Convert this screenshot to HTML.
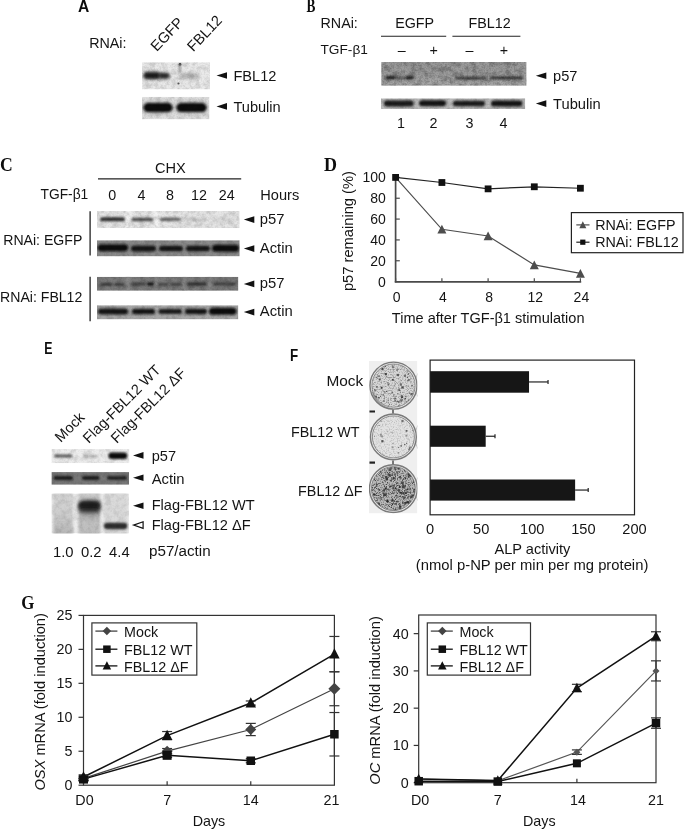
<!DOCTYPE html>
<html><head><meta charset="utf-8"><style>
html,body{margin:0;padding:0;background:#fff;width:684px;height:830px;overflow:hidden}
svg{display:block;filter:grayscale(1)}
text{font-family:"Liberation Sans",sans-serif}
text.pl{font-family:"Liberation Serif",serif;font-weight:bold}
text.pls{font-family:"Liberation Sans",sans-serif;font-weight:bold}
</style></head><body>
<svg width="684" height="830" viewBox="0 0 684 830" fill="#141414">
<defs>
<filter id="b0_3" x="-50%" y="-100%" width="200%" height="300%"><feGaussianBlur stdDeviation="0.3"/></filter>
<filter id="b0_5" x="-50%" y="-100%" width="200%" height="300%"><feGaussianBlur stdDeviation="0.5"/></filter>
<filter id="b0_8" x="-50%" y="-100%" width="200%" height="300%"><feGaussianBlur stdDeviation="0.8"/></filter>
<filter id="b1" x="-50%" y="-100%" width="200%" height="300%"><feGaussianBlur stdDeviation="1"/></filter>
<filter id="b1_2" x="-50%" y="-100%" width="200%" height="300%"><feGaussianBlur stdDeviation="1.2"/></filter>
<filter id="b1_4" x="-50%" y="-100%" width="200%" height="300%"><feGaussianBlur stdDeviation="1.4"/></filter>
<filter id="b1_5" x="-50%" y="-100%" width="200%" height="300%"><feGaussianBlur stdDeviation="1.5"/></filter>
<filter id="b1_6" x="-50%" y="-100%" width="200%" height="300%"><feGaussianBlur stdDeviation="1.6"/></filter>
<filter id="b1_8" x="-50%" y="-100%" width="200%" height="300%"><feGaussianBlur stdDeviation="1.8"/></filter>
<filter id="b2" x="-50%" y="-100%" width="200%" height="300%"><feGaussianBlur stdDeviation="2"/></filter>
<filter id="b2_2" x="-50%" y="-100%" width="200%" height="300%"><feGaussianBlur stdDeviation="2.2"/></filter>
<filter id="b2_5" x="-50%" y="-100%" width="200%" height="300%"><feGaussianBlur stdDeviation="2.5"/></filter>
<filter id="b3" x="-50%" y="-100%" width="200%" height="300%"><feGaussianBlur stdDeviation="3"/></filter>
<filter id="b4" x="-50%" y="-100%" width="200%" height="300%"><feGaussianBlur stdDeviation="4"/></filter>
<filter id="nc1" x="0" y="0" width="100%" height="100%" color-interpolation-filters="sRGB"><feTurbulence type="fractalNoise" baseFrequency="0.18" numOctaves="3" seed="1"/><feColorMatrix type="matrix" values="0 0 0 0 0 0 0 0 0 0 0 0 0 0 0 3 0 0 0 -1.2"/><feComposite in2="SourceGraphic" operator="in"/></filter>
<filter id="nf1" x="0" y="0" width="100%" height="100%" color-interpolation-filters="sRGB"><feTurbulence type="fractalNoise" baseFrequency="0.7" numOctaves="2" seed="21"/><feColorMatrix type="matrix" values="0 0 0 0 0 0 0 0 0 0 0 0 0 0 0 3 0 0 0 -1.2"/><feComposite in2="SourceGraphic" operator="in"/></filter>
<filter id="nc2" x="0" y="0" width="100%" height="100%" color-interpolation-filters="sRGB"><feTurbulence type="fractalNoise" baseFrequency="0.18" numOctaves="3" seed="2"/><feColorMatrix type="matrix" values="0 0 0 0 0 0 0 0 0 0 0 0 0 0 0 3 0 0 0 -1.2"/><feComposite in2="SourceGraphic" operator="in"/></filter>
<filter id="nf2" x="0" y="0" width="100%" height="100%" color-interpolation-filters="sRGB"><feTurbulence type="fractalNoise" baseFrequency="0.7" numOctaves="2" seed="22"/><feColorMatrix type="matrix" values="0 0 0 0 0 0 0 0 0 0 0 0 0 0 0 3 0 0 0 -1.2"/><feComposite in2="SourceGraphic" operator="in"/></filter>
<filter id="nc3" x="0" y="0" width="100%" height="100%" color-interpolation-filters="sRGB"><feTurbulence type="fractalNoise" baseFrequency="0.18" numOctaves="3" seed="3"/><feColorMatrix type="matrix" values="0 0 0 0 0 0 0 0 0 0 0 0 0 0 0 3 0 0 0 -1.2"/><feComposite in2="SourceGraphic" operator="in"/></filter>
<filter id="nf3" x="0" y="0" width="100%" height="100%" color-interpolation-filters="sRGB"><feTurbulence type="fractalNoise" baseFrequency="0.7" numOctaves="2" seed="23"/><feColorMatrix type="matrix" values="0 0 0 0 0 0 0 0 0 0 0 0 0 0 0 3 0 0 0 -1.2"/><feComposite in2="SourceGraphic" operator="in"/></filter>
<filter id="nc4" x="0" y="0" width="100%" height="100%" color-interpolation-filters="sRGB"><feTurbulence type="fractalNoise" baseFrequency="0.18" numOctaves="3" seed="4"/><feColorMatrix type="matrix" values="0 0 0 0 0 0 0 0 0 0 0 0 0 0 0 3 0 0 0 -1.2"/><feComposite in2="SourceGraphic" operator="in"/></filter>
<filter id="nf4" x="0" y="0" width="100%" height="100%" color-interpolation-filters="sRGB"><feTurbulence type="fractalNoise" baseFrequency="0.7" numOctaves="2" seed="24"/><feColorMatrix type="matrix" values="0 0 0 0 0 0 0 0 0 0 0 0 0 0 0 3 0 0 0 -1.2"/><feComposite in2="SourceGraphic" operator="in"/></filter>
<filter id="nc5" x="0" y="0" width="100%" height="100%" color-interpolation-filters="sRGB"><feTurbulence type="fractalNoise" baseFrequency="0.18" numOctaves="3" seed="5"/><feColorMatrix type="matrix" values="0 0 0 0 0 0 0 0 0 0 0 0 0 0 0 3 0 0 0 -1.2"/><feComposite in2="SourceGraphic" operator="in"/></filter>
<filter id="nf5" x="0" y="0" width="100%" height="100%" color-interpolation-filters="sRGB"><feTurbulence type="fractalNoise" baseFrequency="0.7" numOctaves="2" seed="25"/><feColorMatrix type="matrix" values="0 0 0 0 0 0 0 0 0 0 0 0 0 0 0 3 0 0 0 -1.2"/><feComposite in2="SourceGraphic" operator="in"/></filter>
<filter id="nc6" x="0" y="0" width="100%" height="100%" color-interpolation-filters="sRGB"><feTurbulence type="fractalNoise" baseFrequency="0.18" numOctaves="3" seed="6"/><feColorMatrix type="matrix" values="0 0 0 0 0 0 0 0 0 0 0 0 0 0 0 3 0 0 0 -1.2"/><feComposite in2="SourceGraphic" operator="in"/></filter>
<filter id="nf6" x="0" y="0" width="100%" height="100%" color-interpolation-filters="sRGB"><feTurbulence type="fractalNoise" baseFrequency="0.7" numOctaves="2" seed="26"/><feColorMatrix type="matrix" values="0 0 0 0 0 0 0 0 0 0 0 0 0 0 0 3 0 0 0 -1.2"/><feComposite in2="SourceGraphic" operator="in"/></filter>
<filter id="nc7" x="0" y="0" width="100%" height="100%" color-interpolation-filters="sRGB"><feTurbulence type="fractalNoise" baseFrequency="0.18" numOctaves="3" seed="7"/><feColorMatrix type="matrix" values="0 0 0 0 0 0 0 0 0 0 0 0 0 0 0 3 0 0 0 -1.2"/><feComposite in2="SourceGraphic" operator="in"/></filter>
<filter id="nf7" x="0" y="0" width="100%" height="100%" color-interpolation-filters="sRGB"><feTurbulence type="fractalNoise" baseFrequency="0.7" numOctaves="2" seed="27"/><feColorMatrix type="matrix" values="0 0 0 0 0 0 0 0 0 0 0 0 0 0 0 3 0 0 0 -1.2"/><feComposite in2="SourceGraphic" operator="in"/></filter>
<filter id="nc8" x="0" y="0" width="100%" height="100%" color-interpolation-filters="sRGB"><feTurbulence type="fractalNoise" baseFrequency="0.18" numOctaves="3" seed="8"/><feColorMatrix type="matrix" values="0 0 0 0 0 0 0 0 0 0 0 0 0 0 0 3 0 0 0 -1.2"/><feComposite in2="SourceGraphic" operator="in"/></filter>
<filter id="nf8" x="0" y="0" width="100%" height="100%" color-interpolation-filters="sRGB"><feTurbulence type="fractalNoise" baseFrequency="0.7" numOctaves="2" seed="28"/><feColorMatrix type="matrix" values="0 0 0 0 0 0 0 0 0 0 0 0 0 0 0 3 0 0 0 -1.2"/><feComposite in2="SourceGraphic" operator="in"/></filter>
</defs>
<rect width="684" height="830" fill="#fff"/>
<text class="pls" font-size="15.6" transform="translate(77.90 11.6) scale(1.0 1)" x="0" y="0" fill="#0d0d0d">A</text>
<text x="89.2" y="48" font-size="14.3" text-anchor="start" >RNAi:</text>
<text x="156.8" y="52.0" font-size="14.6" transform="rotate(-46.5 156.8 52.0)" >EGFP</text>
<text x="193.3" y="52.2" font-size="14.6" transform="rotate(-46.5 193.3 52.2)" >FBL12</text>
<clipPath id="c38"><rect x="142" y="62.2" width="68" height="27.299999999999997"/></clipPath>
<g clip-path="url(#c38)">
<rect x="142" y="62.2" width="68" height="27.299999999999997" fill="#eaeaea"/>
<circle cx="180" cy="64.5" r="1.4" fill="#333" filter="url(#b0_5)"/>
<rect x="178.6" y="64" width="2.4" height="9" fill="#999" filter="url(#b0_8)"/>
<circle cx="178.5" cy="83.5" r="1.1" fill="#555" filter="url(#b0_5)"/>
<rect x="143.5" y="71.85" width="17.0" height="7.5" rx="3.75" ry="3.75" fill="#1a1a1a" opacity="1" filter="url(#b1_4)"/>
<rect x="158.5" y="72.8" width="11.300000000000011" height="6" rx="3.0" ry="3.0" fill="#282828" opacity="1" filter="url(#b1_4)"/>
<rect x="178" y="73.3" width="22" height="6" rx="3.0" ry="3.0" fill="#c8c8c8" opacity="1" filter="url(#b1_8)"/>
<rect x="181" y="74.55" width="16" height="3.5" rx="1.75" ry="1.75" fill="#b5b5b5" opacity="1" filter="url(#b1_5)"/>
<rect x="142" y="62.2" width="68" height="27.299999999999997" fill="#000" filter="url(#nc1)" opacity="0.11"/>
<rect x="142" y="62.2" width="68" height="27.299999999999997" fill="#000" filter="url(#nf1)" opacity="0.05"/>
</g>
<clipPath id="c51"><rect x="142" y="96.8" width="67.5" height="22.60000000000001"/></clipPath>
<g clip-path="url(#c51)">
<rect x="142" y="96.8" width="67.5" height="22.60000000000001" fill="#e4e4e4"/>
<rect x="142" y="101.1" width="32" height="13" rx="6.5" ry="6.5" fill="#9a9a9a" opacity="0.6" filter="url(#b2_5)"/>
<rect x="175" y="101.1" width="33" height="13" rx="6.5" ry="6.5" fill="#9a9a9a" opacity="0.6" filter="url(#b2_5)"/>
<rect x="143.5" y="103.1" width="29.0" height="9" rx="4.5" ry="4.5" fill="#0a0a0a" opacity="1" filter="url(#b1_2)"/>
<rect x="176.5" y="103.1" width="30.0" height="9" rx="4.5" ry="4.5" fill="#0a0a0a" opacity="1" filter="url(#b1_2)"/>
<rect x="142" y="96.8" width="67.5" height="22.60000000000001" fill="#000" filter="url(#nc2)" opacity="0.113"/>
<rect x="142" y="96.8" width="67.5" height="22.60000000000001" fill="#000" filter="url(#nf2)" opacity="0.04"/>
</g>
<polygon points="216.5,75.5 227.0,72.2 227.0,78.8" fill="#111"/>
<text x="233.4" y="80.6" font-size="14.6" text-anchor="start" >FBL12</text>
<polygon points="216.5,106.4 227.0,103.10000000000001 227.0,109.7" fill="#111"/>
<text x="233.4" y="111.6" font-size="14.6" text-anchor="start" >Tubulin</text>
<text class="pl" font-size="18" transform="translate(306.38 11.6) scale(0.74 1)" x="0" y="0" fill="#0d0d0d">B</text>
<text x="320.5" y="27.9" font-size="14.3" text-anchor="start" >RNAi:</text>
<text x="395.2" y="28" font-size="14.3" text-anchor="start" >EGFP</text>
<text x="468.6" y="28" font-size="14.3" text-anchor="start" >FBL12</text>
<line x1="381" y1="36.3" x2="446.2" y2="36.3" stroke="#222" stroke-width="1.1"/>
<line x1="452.4" y1="36.3" x2="520.4" y2="36.3" stroke="#222" stroke-width="1.1"/>
<text x="320.5" y="54.4" font-size="13.7" text-anchor="start" >TGF-&#946;1</text>
<text x="401.7" y="55.3" font-size="14.3" text-anchor="middle" >&#8211;</text>
<text x="433.8" y="55.3" font-size="14.3" text-anchor="middle" >+</text>
<text x="469.4" y="55.3" font-size="14.3" text-anchor="middle" >&#8211;</text>
<text x="503.9" y="55.3" font-size="14.3" text-anchor="middle" >+</text>
<clipPath id="c76"><rect x="381.2" y="62" width="145.40000000000003" height="23.700000000000003"/></clipPath>
<g clip-path="url(#c76)">
<rect x="381.2" y="62" width="145.40000000000003" height="23.700000000000003" fill="#9b9b9b"/>
<rect x="381" y="78.5" width="145.60000000000002" height="8" rx="4.0" ry="4.0" fill="#b2b2b2" opacity="0.6" filter="url(#b2)"/>
<rect x="386" y="76.0" width="10" height="3.2" rx="1.6" ry="1.6" fill="#1e1e1e" opacity="1" filter="url(#b0_8)"/>
<rect x="395" y="76.6" width="12" height="2.4" rx="1.2" ry="1.2" fill="#555" opacity="1" filter="url(#b0_8)"/>
<rect x="406" y="76.0" width="8" height="3.2" rx="1.6" ry="1.6" fill="#222" opacity="1" filter="url(#b0_8)"/>
<rect x="455" y="76.8" width="31" height="2.8" rx="1.4" ry="1.4" fill="#3a3a3a" opacity="1" filter="url(#b0_8)"/>
<rect x="490" y="76.5" width="33" height="2.8" rx="1.4" ry="1.4" fill="#353535" opacity="1" filter="url(#b0_8)"/>
<rect x="381.2" y="62" width="145.40000000000003" height="23.700000000000003" fill="#000" filter="url(#nc3)" opacity="0.203"/>
<rect x="381.2" y="62" width="145.40000000000003" height="23.700000000000003" fill="#000" filter="url(#nf3)" opacity="0.125"/>
</g>
<clipPath id="c88"><rect x="381" y="98.3" width="144.29999999999995" height="10.700000000000003"/></clipPath>
<g clip-path="url(#c88)">
<rect x="381" y="98.3" width="144.29999999999995" height="10.700000000000003" fill="#bcbcbc"/>
<rect x="384" y="100.4" width="29.5" height="6" rx="3.0" ry="3.0" fill="#1a1a1a" opacity="1" filter="url(#b0_8)"/>
<rect x="419" y="100.3" width="27" height="6" rx="3.0" ry="3.0" fill="#151515" opacity="1" filter="url(#b0_8)"/>
<rect x="453" y="100.75" width="32" height="5.5" rx="2.75" ry="2.75" fill="#1c1c1c" opacity="1" filter="url(#b0_8)"/>
<rect x="491" y="100.5" width="31.5" height="6" rx="3.0" ry="3.0" fill="#181818" opacity="1" filter="url(#b0_8)"/>
<rect x="381" y="98.3" width="144.29999999999995" height="10.700000000000003" fill="#000" filter="url(#nc4)" opacity="0.113"/>
<rect x="381" y="98.3" width="144.29999999999995" height="10.700000000000003" fill="#000" filter="url(#nf4)" opacity="0.05"/>
</g>
<polygon points="535.8,75.8 546.3,72.5 546.3,79.1" fill="#111"/>
<text x="553.1" y="80.6" font-size="14.6" text-anchor="start" >p57</text>
<polygon points="535.8,103.6 546.3,100.3 546.3,106.89999999999999" fill="#111"/>
<text x="553.1" y="108.6" font-size="14.7" text-anchor="start" >Tubulin</text>
<text x="401" y="128.3" font-size="14.3" text-anchor="middle" >1</text>
<text x="433.6" y="128.3" font-size="14.3" text-anchor="middle" >2</text>
<text x="469.4" y="128.3" font-size="14.3" text-anchor="middle" >3</text>
<text x="503.4" y="128.3" font-size="14.3" text-anchor="middle" >4</text>
<text class="pl" font-size="18" transform="translate(0.12 170.6) scale(0.98 1)" x="0" y="0" fill="#0d0d0d">C</text>
<text x="170.4" y="172.6" font-size="14.6" text-anchor="middle" >CHX</text>
<line x1="98" y1="178.9" x2="241.2" y2="178.9" stroke="#222" stroke-width="1.1"/>
<text x="40.5" y="198.8" font-size="13.8" text-anchor="start" >TGF-&#946;1</text>
<text x="112.2" y="199.6" font-size="14.3" text-anchor="middle" >0</text>
<text x="141.5" y="199.6" font-size="14.3" text-anchor="middle" >4</text>
<text x="169.9" y="199.6" font-size="14.3" text-anchor="middle" >8</text>
<text x="199" y="199.6" font-size="14.3" text-anchor="middle" >12</text>
<text x="226.7" y="199.6" font-size="14.3" text-anchor="middle" >24</text>
<text x="260.3" y="199.6" font-size="14.6" text-anchor="start" >Hours</text>
<text x="82.3" y="244.8" font-size="14.1" text-anchor="end" >RNAi: EGFP</text>
<text x="82.3" y="301.7" font-size="14.1" text-anchor="end" >RNAi: FBL12</text>
<line x1="90.1" y1="211.3" x2="90.1" y2="255.4" stroke="#222" stroke-width="1.3"/>
<line x1="90.1" y1="276.8" x2="90.1" y2="321.2" stroke="#222" stroke-width="1.3"/>
<clipPath id="c120"><rect x="97" y="211" width="142.7" height="17.19999999999999"/></clipPath>
<g clip-path="url(#c120)">
<rect x="97" y="211" width="142.7" height="17.19999999999999" fill="#e6e6e6"/>
<rect x="126" y="208" width="5" height="23.19999999999999" fill="#fff" opacity="0.5" filter="url(#b1)"/>
<rect x="154" y="208" width="5" height="23.19999999999999" fill="#fff" opacity="0.5" filter="url(#b1)"/>
<rect x="100" y="217.2" width="25" height="4" rx="2.0" ry="2.0" fill="#333" opacity="1" filter="url(#b1)"/>
<rect x="131.5" y="217.75" width="21.5" height="3.5" rx="1.75" ry="1.75" fill="#505050" opacity="1" filter="url(#b1)"/>
<rect x="160" y="217.65" width="21" height="3.3" rx="1.65" ry="1.65" fill="#6a6a6a" opacity="1" filter="url(#b1)"/>
<rect x="186" y="218.3" width="21" height="3" rx="1.5" ry="1.5" fill="#c9c9c9" opacity="1" filter="url(#b1_2)"/>
<rect x="213" y="218.3" width="23" height="3" rx="1.5" ry="1.5" fill="#d5d5d5" opacity="1" filter="url(#b1_2)"/>
<rect x="97" y="211" width="142.7" height="17.19999999999999" fill="#000" filter="url(#nc5)" opacity="0.113"/>
<rect x="97" y="211" width="142.7" height="17.19999999999999" fill="#000" filter="url(#nf5)" opacity="0.04"/>
</g>
<clipPath id="c133"><rect x="97" y="240.2" width="142.7" height="16.19999999999999"/></clipPath>
<g clip-path="url(#c133)">
<rect x="97" y="240.2" width="142.7" height="16.19999999999999" fill="#8c8c8c"/>
<rect x="97.5" y="244.3" width="30.5" height="7" rx="3.5" ry="3.5" fill="#111" opacity="1" filter="url(#b1)"/>
<rect x="131" y="245.5" width="25" height="6" rx="3.0" ry="3.0" fill="#161616" opacity="1" filter="url(#b1)"/>
<rect x="159" y="245.75" width="24" height="5.5" rx="2.75" ry="2.75" fill="#161616" opacity="1" filter="url(#b1)"/>
<rect x="186" y="245.75" width="24" height="5.5" rx="2.75" ry="2.75" fill="#141414" opacity="1" filter="url(#b1)"/>
<rect x="212" y="244.7" width="27" height="7" rx="3.5" ry="3.5" fill="#0c0c0c" opacity="1" filter="url(#b1)"/>
<rect x="97" y="240.2" width="142.7" height="16.19999999999999" fill="#000" filter="url(#nc6)" opacity="0.113"/>
<rect x="97" y="240.2" width="142.7" height="16.19999999999999" fill="#000" filter="url(#nf6)" opacity="0.04"/>
</g>
<clipPath id="c144"><rect x="97" y="276.8" width="141.4" height="14.0"/></clipPath>
<g clip-path="url(#c144)">
<rect x="97" y="276.8" width="141.4" height="14.0" fill="#7b7b7b"/>
<rect x="126" y="273.8" width="4" height="20.0" fill="#999" opacity="0.5" filter="url(#b1)"/>
<rect x="155" y="273.8" width="3" height="20.0" fill="#999" opacity="0.4" filter="url(#b1)"/>
<rect x="183" y="273.8" width="3" height="20.0" fill="#999" opacity="0.4" filter="url(#b1)"/>
<rect x="208" y="273.8" width="3" height="20.0" fill="#999" opacity="0.4" filter="url(#b1)"/>
<rect x="100" y="282.90000000000003" width="13" height="2.8" rx="1.4" ry="1.4" fill="#3a3a3a" opacity="1" filter="url(#b0_8)"/>
<rect x="114" y="282.90000000000003" width="11" height="2.8" rx="1.4" ry="1.4" fill="#444" opacity="1" filter="url(#b0_8)"/>
<rect x="131" y="282.5" width="15" height="3" rx="1.5" ry="1.5" fill="#404040" opacity="1" filter="url(#b0_8)"/>
<rect x="147" y="282.25" width="7" height="3.5" rx="1.75" ry="1.75" fill="#1a1a1a" opacity="1" filter="url(#b0_8)"/>
<rect x="158" y="282.95" width="10" height="2.5" rx="1.25" ry="1.25" fill="#444" opacity="1" filter="url(#b0_8)"/>
<rect x="170" y="282.95" width="11" height="2.5" rx="1.25" ry="1.25" fill="#3a3a3a" opacity="1" filter="url(#b0_8)"/>
<rect x="187" y="282.25" width="20" height="3.5" rx="1.75" ry="1.75" fill="#333" opacity="1" filter="url(#b0_8)"/>
<rect x="213" y="282.5" width="23" height="3" rx="1.5" ry="1.5" fill="#3e3e3e" opacity="1" filter="url(#b0_8)"/>
<rect x="97" y="276.8" width="141.4" height="14.0" fill="#000" filter="url(#nc7)" opacity="0.135"/>
<rect x="97" y="276.8" width="141.4" height="14.0" fill="#000" filter="url(#nf7)" opacity="0.06"/>
</g>
<clipPath id="c162"><rect x="97" y="305.2" width="141.4" height="14.199999999999989"/></clipPath>
<g clip-path="url(#c162)">
<rect x="97" y="305.2" width="141.4" height="14.199999999999989" fill="#a8a8a8"/>
<rect x="98" y="308.5" width="30" height="6" rx="3.0" ry="3.0" fill="#141414" opacity="1" filter="url(#b1)"/>
<rect x="132" y="308.85" width="23" height="5.5" rx="2.75" ry="2.75" fill="#181818" opacity="1" filter="url(#b1)"/>
<rect x="158.5" y="309.1" width="23.5" height="5" rx="2.5" ry="2.5" fill="#1a1a1a" opacity="1" filter="url(#b1)"/>
<rect x="185" y="308.75" width="22" height="5.5" rx="2.75" ry="2.75" fill="#181818" opacity="1" filter="url(#b1)"/>
<rect x="209" y="307.8" width="27.5" height="7" rx="3.5" ry="3.5" fill="#111" opacity="1" filter="url(#b1)"/>
<rect x="97" y="305.2" width="141.4" height="14.199999999999989" fill="#000" filter="url(#nc8)" opacity="0.113"/>
<rect x="97" y="305.2" width="141.4" height="14.199999999999989" fill="#000" filter="url(#nf8)" opacity="0.04"/>
</g>
<polygon points="243.8,219.6 254.3,216.29999999999998 254.3,222.9" fill="#111"/>
<text x="259.8" y="223.9" font-size="14.8" text-anchor="start" >p57</text>
<polygon points="243.8,248.6 254.3,245.29999999999998 254.3,251.9" fill="#111"/>
<text x="259.8" y="252.6" font-size="14.8" text-anchor="start" >Actin</text>
<polygon points="243.8,283.9 254.3,280.59999999999997 254.3,287.2" fill="#111"/>
<text x="259.8" y="287.9" font-size="14.8" text-anchor="start" >p57</text>
<polygon points="243.8,312.1 254.3,308.8 254.3,315.40000000000003" fill="#111"/>
<text x="259.8" y="316.4" font-size="14.8" text-anchor="start" >Actin</text>
<text class="pl" font-size="18" transform="translate(324.00 170.6) scale(1.0 1)" x="0" y="0" fill="#0d0d0d">D</text>
<line x1="395.6" y1="177.4" x2="395.6" y2="282.4" stroke="#4a4a4a" stroke-width="1.7"/>
<line x1="394.8" y1="281.8" x2="581.2" y2="281.8" stroke="#4a4a4a" stroke-width="1.7"/>
<line x1="395.6" y1="281.6" x2="399.8" y2="281.6" stroke="#4a4a4a" stroke-width="1.2"/>
<text x="385.9" y="286.6" font-size="14" text-anchor="end" >0</text>
<line x1="395.6" y1="260.76000000000005" x2="399.8" y2="260.76000000000005" stroke="#4a4a4a" stroke-width="1.2"/>
<text x="385.9" y="265.76000000000005" font-size="14" text-anchor="end" >20</text>
<line x1="395.6" y1="239.92000000000002" x2="399.8" y2="239.92000000000002" stroke="#4a4a4a" stroke-width="1.2"/>
<text x="385.9" y="244.92000000000002" font-size="14" text-anchor="end" >40</text>
<line x1="395.6" y1="219.08" x2="399.8" y2="219.08" stroke="#4a4a4a" stroke-width="1.2"/>
<text x="385.9" y="224.08" font-size="14" text-anchor="end" >60</text>
<line x1="395.6" y1="198.24" x2="399.8" y2="198.24" stroke="#4a4a4a" stroke-width="1.2"/>
<text x="385.9" y="203.24" font-size="14" text-anchor="end" >80</text>
<line x1="395.6" y1="177.40000000000003" x2="399.8" y2="177.40000000000003" stroke="#4a4a4a" stroke-width="1.2"/>
<text x="385.9" y="182.40000000000003" font-size="14" text-anchor="end" >100</text>
<line x1="395.6" y1="278.2" x2="395.6" y2="281.8" stroke="#4a4a4a" stroke-width="1.2"/>
<text x="396.6" y="301.5" font-size="14" text-anchor="middle" >0</text>
<line x1="441.9" y1="278.2" x2="441.9" y2="281.8" stroke="#4a4a4a" stroke-width="1.2"/>
<text x="442.9" y="301.5" font-size="14" text-anchor="middle" >4</text>
<line x1="488.1" y1="278.2" x2="488.1" y2="281.8" stroke="#4a4a4a" stroke-width="1.2"/>
<text x="489.1" y="301.5" font-size="14" text-anchor="middle" >8</text>
<line x1="534.3" y1="278.2" x2="534.3" y2="281.8" stroke="#4a4a4a" stroke-width="1.2"/>
<text x="535.3" y="301.5" font-size="14" text-anchor="middle" >12</text>
<line x1="580.4" y1="278.2" x2="580.4" y2="281.8" stroke="#4a4a4a" stroke-width="1.2"/>
<text x="581.4" y="301.5" font-size="14" text-anchor="middle" >24</text>
<text x="488.2" y="323" font-size="14.55" text-anchor="middle" >Time after TGF-&#946;1 stimulation</text>
<text x="0" y="0" font-size="14.7" text-anchor="middle" transform="translate(352.7 231.1) rotate(-90)">p57 remaining (%)</text>
<polyline points="395.6,177.40000000000003 441.9,229.29160000000002 488.1,235.96040000000002 534.3,264.928 580.4,273.3682" fill="none" stroke="#4d4d4d" stroke-width="1.2"/>
<polyline points="395.6,177.40000000000003 441.9,182.50580000000002 488.1,188.86200000000002 534.3,186.77800000000002 580.4,188.23680000000002" fill="none" stroke="#222" stroke-width="1.2"/>
<polygon points="441.9,224.84160000000003 437.4,233.57160000000002 446.4,233.57160000000002" fill="#4d4d4d"/>
<polygon points="488.1,231.51040000000003 483.6,240.24040000000002 492.6,240.24040000000002" fill="#4d4d4d"/>
<polygon points="534.3,260.478 529.8,269.20799999999997 538.8,269.20799999999997" fill="#4d4d4d"/>
<polygon points="580.4,268.9182 575.9,277.6482 584.9,277.6482" fill="#4d4d4d"/>
<rect x="392.20000000000005" y="174.00000000000003" width="6.8" height="6.8" fill="#111"/>
<rect x="438.5" y="179.10580000000002" width="6.8" height="6.8" fill="#111"/>
<rect x="484.70000000000005" y="185.46200000000002" width="6.8" height="6.8" fill="#111"/>
<rect x="530.9" y="183.37800000000001" width="6.8" height="6.8" fill="#111"/>
<rect x="577.0" y="184.8368" width="6.8" height="6.8" fill="#111"/>
<rect x="571.4" y="212.6" width="111.6" height="40.1" fill="#fff" stroke="#222" stroke-width="1.2"/>
<line x1="576.3" y1="224.9" x2="589.5" y2="224.9" stroke="#4d4d4d" stroke-width="1.2"/>
<polygon points="582.8,221.35 579.3,228.14 586.3,228.14" fill="#4d4d4d"/>
<text x="595.2" y="230.2" font-size="14.3" text-anchor="start" >RNAi: EGFP</text>
<line x1="576.3" y1="242.2" x2="589.5" y2="242.2" stroke="#222" stroke-width="1.2"/>
<rect x="580.1999999999999" y="239.6" width="5.2" height="5.2" fill="#111"/>
<text x="595.2" y="247" font-size="14.3" text-anchor="start" >RNAi: FBL12</text>
<text class="pls" font-size="15.6" transform="translate(44.21 354.2) scale(0.79 1)" x="0" y="0" fill="#0d0d0d">E</text>
<text x="60.8" y="442.9" font-size="14.6" transform="rotate(-45 60.8 442.9)" >Mock</text>
<text x="88.8" y="443.9" font-size="14.6" transform="rotate(-45 88.8 443.9)" >Flag-FBL12 WT</text>
<text x="116.8" y="443.9" font-size="14.6" transform="rotate(-45 116.8 443.9)" >Flag-FBL12 &#916;F</text>
<clipPath id="c230"><rect x="51.4" y="449.1" width="78.1" height="14.099999999999966"/></clipPath>
<g clip-path="url(#c230)">
<rect x="51.4" y="449.1" width="78.1" height="14.099999999999966" fill="#ededed"/>
<rect x="54" y="454.5" width="18.5" height="3" rx="1.5" ry="1.5" fill="#5a5a5a" opacity="1" filter="url(#b0_8)"/>
<rect x="83" y="455.05" width="15" height="2.5" rx="1.25" ry="1.25" fill="#b0b0b0" opacity="1" filter="url(#b0_8)"/>
<rect x="108.4" y="452.55" width="18.799999999999997" height="6.5" rx="3.25" ry="3.25" fill="#0a0a0a" opacity="1" filter="url(#b1)"/>
<rect x="51.4" y="449.1" width="78.1" height="14.099999999999966" fill="#000" filter="url(#nc2)" opacity="0.09"/>
<rect x="51.4" y="449.1" width="78.1" height="14.099999999999966" fill="#000" filter="url(#nf2)" opacity="0.03"/>
</g>
<clipPath id="c239"><rect x="51.4" y="472.1" width="77.69999999999999" height="12.699999999999989"/></clipPath>
<g clip-path="url(#c239)">
<rect x="51.4" y="472.1" width="77.69999999999999" height="12.699999999999989" fill="#787878"/>
<rect x="53.5" y="475.9" width="19.5" height="4" rx="2.0" ry="2.0" fill="#1e1e1e" opacity="1" filter="url(#b0_8)"/>
<rect x="82" y="475.9" width="17.5" height="4" rx="2.0" ry="2.0" fill="#1e1e1e" opacity="1" filter="url(#b0_8)"/>
<rect x="107" y="476.0" width="20" height="3.8" rx="1.9" ry="1.9" fill="#222" opacity="1" filter="url(#b0_8)"/>
<rect x="51.4" y="472.1" width="77.69999999999999" height="12.699999999999989" fill="#000" filter="url(#nc3)" opacity="0.09"/>
<rect x="51.4" y="472.1" width="77.69999999999999" height="12.699999999999989" fill="#000" filter="url(#nf3)" opacity="0.03"/>
</g>
<linearGradient id="gE" x1="0" y1="0" x2="0" y2="1"><stop offset="0" stop-color="#000" stop-opacity="0"/><stop offset="0.5" stop-color="#000" stop-opacity="0.04"/><stop offset="1" stop-color="#000" stop-opacity="0.16"/></linearGradient>
<linearGradient id="gS" x1="0" y1="0" x2="0" y2="1"><stop offset="0" stop-color="#d4d4d4"/><stop offset="0.15" stop-color="#c8c8c8"/><stop offset="0.45" stop-color="#a8a8a8"/><stop offset="0.7" stop-color="#c2c2c2"/><stop offset="1" stop-color="#bdbdbd"/></linearGradient>
<linearGradient id="gL1" x1="0" y1="0" x2="0" y2="1"><stop offset="0" stop-color="#d6d6d6"/><stop offset="0.55" stop-color="#cdcdcd"/><stop offset="1" stop-color="#b4b4b4"/></linearGradient>
<clipPath id="c251"><rect x="51.4" y="493.5" width="77.69999999999999" height="39.89999999999998"/></clipPath>
<g clip-path="url(#c251)">
<rect x="51.4" y="493.5" width="77.69999999999999" height="39.89999999999998" fill="#ebebeb"/>
<rect x="78.6" y="490.5" width="21.5" height="45.89999999999998" fill="url(#gS)" opacity="1" filter="url(#b1_2)"/>
<rect x="104.2" y="490.5" width="23.200000000000003" height="45.89999999999998" fill="#dadada" opacity="1" filter="url(#b1_2)"/>
<rect x="53.2" y="490" width="19.6" height="46" fill="url(#gL1)" filter="url(#b1_2)"/>
<rect x="77.8" y="500.55" width="23.200000000000003" height="12.5" rx="6.25" ry="6.25" fill="#383838" opacity="1" filter="url(#b2_2)"/>
<rect x="79.5" y="501.8" width="20.0" height="7" rx="3.5" ry="3.5" fill="#1e1e1e" opacity="1" filter="url(#b1_6)"/>
<rect x="104" y="522.65" width="23.200000000000003" height="6.5" rx="3.25" ry="3.25" fill="#2e2e2e" opacity="1" filter="url(#b1_2)"/>
<rect x="51.4" y="493.5" width="77.69999999999999" height="39.89999999999998" fill="#000" filter="url(#nc4)" opacity="0.07"/>
<rect x="51.4" y="493.5" width="77.69999999999999" height="39.89999999999998" fill="#000" filter="url(#nf4)" opacity="0.02"/>
</g>
<polygon points="133,455.4 143.5,452.09999999999997 143.5,458.7" fill="#111"/>
<text x="151.7" y="460.6" font-size="14.6" text-anchor="start" >p57</text>
<polygon points="133,477.7 143.5,474.4 143.5,481.0" fill="#111"/>
<text x="151.7" y="483.7" font-size="14.8" text-anchor="start" >Actin</text>
<polygon points="133,505.8 143.5,502.5 143.5,509.1" fill="#111"/>
<text x="151.7" y="509.7" font-size="14.6" text-anchor="start" >Flag-FBL12 WT</text>
<polygon points="133.6,525.1 143.1,521.8000000000001 143.1,528.4" fill="#fff" stroke="#111" stroke-width="1.2"/>
<text x="151.7" y="530.1" font-size="14.6" text-anchor="start" >Flag-FBL12 &#916;F</text>
<text x="53" y="557.3" font-size="14.8" text-anchor="start" >1.0</text>
<text x="81" y="557.3" font-size="14.8" text-anchor="start" >0.2</text>
<text x="109.1" y="557.3" font-size="14.8" text-anchor="start" >4.4</text>
<text x="149" y="556.4" font-size="15.2" text-anchor="start" >p57/actin</text>
<text class="pls" font-size="15.6" transform="translate(289.94 360.9) scale(0.86 1)" x="0" y="0" fill="#0d0d0d">F</text>
<text x="363.2" y="385.7" font-size="15.4" text-anchor="end" >Mock</text>
<text x="359.4" y="436.6" font-size="14.3" text-anchor="end" >FBL12 WT</text>
<text x="362.5" y="495.8" font-size="14.3" text-anchor="end" >FBL12 &#916;F</text>
<clipPath id="cpF"><rect x="369" y="360.8" width="48.4" height="152.6"/></clipPath>
<g clip-path="url(#cpF)">
<rect x="369" y="360.8" width="48.4" height="152.6" fill="#efefef"/>
<circle cx="440" cy="385" r="25" fill="#f4f4f4" stroke="#c0c0c0" stroke-width="1"/>
<circle cx="440" cy="437" r="25" fill="#f4f4f4" stroke="#c0c0c0" stroke-width="1"/>
<circle cx="440" cy="489" r="25" fill="#f4f4f4" stroke="#c0c0c0" stroke-width="1"/>
<rect x="369.5" y="410.5" width="5.5" height="2" fill="#222"/><rect x="369.5" y="461.5" width="5.5" height="2.2" fill="#222"/>
<filter id="pn0" x="0" y="0" width="100%" height="100%" color-interpolation-filters="sRGB"><feTurbulence type="fractalNoise" baseFrequency="0.75" numOctaves="2" seed="11"/><feColorMatrix type="matrix" values="0 0 0 0 0 0 0 0 0 0 0 0 0 0 0 3.2 0 0 0 -1.45"/><feGaussianBlur stdDeviation="0.4"/><feComposite in2="SourceGraphic" operator="in"/></filter>
<clipPath id="pc0"><circle cx="393.5" cy="385.6" r="21.3"/></clipPath>
<circle cx="393.5" cy="385.6" r="23.5" fill="#ebebeb" stroke="#7a7a7a" stroke-width="1.4"/>
<circle cx="393.5" cy="385.6" r="21.599999999999998" fill="#d6d6d6" stroke="#8c8c8c" stroke-width="1"/>
<g clip-path="url(#pc0)">
<rect x="369.3" y="361.40000000000003" width="48.4" height="48.4" fill="#333" filter="url(#pn0)" opacity="0.3"/>
<g filter="url(#b0_5)">
<rect x="400.9" y="395.9" width="2.2" height="2.2" fill="rgb(66,66,66)"/>
<rect x="387.7" y="384.3" width="1.2" height="1.2" fill="rgb(67,67,67)"/>
<rect x="398.2" y="406.3" width="0.8" height="0.8" fill="rgb(115,115,115)"/>
<rect x="394.3" y="399.9" width="1.8" height="1.8" fill="rgb(114,114,114)"/>
<rect x="388.6" y="383.4" width="1" height="1" fill="rgb(67,67,67)"/>
<rect x="380.1" y="395.8" width="1" height="1" fill="rgb(65,65,65)"/>
<rect x="404.6" y="397.9" width="1.5" height="1.5" fill="rgb(78,78,78)"/>
<rect x="378.8" y="378.6" width="1.8" height="1.8" fill="rgb(83,83,83)"/>
<rect x="387.1" y="382.5" width="1" height="1" fill="rgb(107,107,107)"/>
<rect x="391.9" y="378.9" width="1.8" height="1.8" fill="rgb(67,67,67)"/>
<rect x="376.0" y="386.0" width="1.8" height="1.8" fill="rgb(114,114,114)"/>
<rect x="374.4" y="389.8" width="1.5" height="1.5" fill="rgb(106,106,106)"/>
<rect x="396.8" y="373.9" width="2.2" height="2.2" fill="rgb(91,91,91)"/>
<rect x="391.5" y="391.6" width="1.5" height="1.5" fill="rgb(103,103,103)"/>
<rect x="389.0" y="404.0" width="0.8" height="0.8" fill="rgb(75,75,75)"/>
<rect x="401.6" y="399.3" width="1.2" height="1.2" fill="rgb(79,79,79)"/>
<rect x="374.6" y="395.7" width="2.2" height="2.2" fill="rgb(69,69,69)"/>
<rect x="376.1" y="377.0" width="1.2" height="1.2" fill="rgb(103,103,103)"/>
<rect x="378.1" y="375.3" width="1.8" height="1.8" fill="rgb(118,118,118)"/>
<rect x="398.3" y="388.8" width="1.2" height="1.2" fill="rgb(120,120,120)"/>
<rect x="410.5" y="393.0" width="2.2" height="2.2" fill="rgb(99,99,99)"/>
<rect x="411.3" y="384.8" width="1.5" height="1.5" fill="rgb(96,96,96)"/>
<rect x="407.8" y="373.4" width="1.2" height="1.2" fill="rgb(62,62,62)"/>
<rect x="380.3" y="402.6" width="1.8" height="1.8" fill="rgb(74,74,74)"/>
<rect x="396.6" y="400.9" width="1.2" height="1.2" fill="rgb(76,76,76)"/>
<rect x="378.2" y="397.0" width="1.5" height="1.5" fill="rgb(70,70,70)"/>
<rect x="386.1" y="390.8" width="1.2" height="1.2" fill="rgb(77,77,77)"/>
<rect x="406.7" y="370.4" width="1.2" height="1.2" fill="rgb(113,113,113)"/>
<rect x="384.5" y="365.5" width="1.5" height="1.5" fill="rgb(89,89,89)"/>
<rect x="397.4" y="393.3" width="1" height="1" fill="rgb(89,89,89)"/>
<rect x="394.7" y="383.5" width="1" height="1" fill="rgb(93,93,93)"/>
<rect x="400.7" y="394.9" width="1.8" height="1.8" fill="rgb(107,107,107)"/>
<rect x="386.3" y="401.4" width="1" height="1" fill="rgb(125,125,125)"/>
<rect x="381.3" y="367.7" width="2.2" height="2.2" fill="rgb(66,66,66)"/>
<rect x="403.8" y="374.7" width="2.2" height="2.2" fill="rgb(110,110,110)"/>
<rect x="382.5" y="394.2" width="1.5" height="1.5" fill="rgb(111,111,111)"/>
<rect x="398.6" y="387.9" width="1" height="1" fill="rgb(116,116,116)"/>
<rect x="388.7" y="393.2" width="0.8" height="0.8" fill="rgb(73,73,73)"/>
<rect x="393.7" y="385.9" width="0.8" height="0.8" fill="rgb(106,106,106)"/>
<rect x="409.2" y="393.0" width="1" height="1" fill="rgb(108,108,108)"/>
<rect x="393.4" y="394.2" width="1.2" height="1.2" fill="rgb(106,106,106)"/>
<rect x="404.9" y="395.7" width="1.5" height="1.5" fill="rgb(119,119,119)"/>
<rect x="387.7" y="399.8" width="1" height="1" fill="rgb(73,73,73)"/>
<rect x="392.3" y="366.4" width="1.5" height="1.5" fill="rgb(80,80,80)"/>
<rect x="397.9" y="400.9" width="1.8" height="1.8" fill="rgb(106,106,106)"/>
<rect x="385.3" y="383.3" width="0.8" height="0.8" fill="rgb(127,127,127)"/>
<rect x="385.9" y="376.1" width="0.8" height="0.8" fill="rgb(93,93,93)"/>
<rect x="406.9" y="376.9" width="1.2" height="1.2" fill="rgb(88,88,88)"/>
<rect x="396.4" y="369.7" width="1.2" height="1.2" fill="rgb(88,88,88)"/>
<rect x="397.7" y="368.7" width="1" height="1" fill="rgb(90,90,90)"/>
<rect x="392.2" y="365.6" width="1" height="1" fill="rgb(85,85,85)"/>
<rect x="383.7" y="398.2" width="0.8" height="0.8" fill="rgb(63,63,63)"/>
<rect x="374.1" y="389.0" width="1" height="1" fill="rgb(104,104,104)"/>
<rect x="407.2" y="379.9" width="1.2" height="1.2" fill="rgb(106,106,106)"/>
<rect x="398.5" y="389.4" width="1.5" height="1.5" fill="rgb(85,85,85)"/>
<rect x="380.7" y="387.0" width="1.8" height="1.8" fill="rgb(60,60,60)"/>
<rect x="384.7" y="373.0" width="2.2" height="2.2" fill="rgb(70,70,70)"/>
<rect x="408.3" y="399.5" width="1.5" height="1.5" fill="rgb(85,85,85)"/>
<rect x="400.2" y="399.4" width="2.2" height="2.2" fill="rgb(102,102,102)"/>
<rect x="399.7" y="383.4" width="2.2" height="2.2" fill="rgb(110,110,110)"/>
<rect x="392.9" y="370.5" width="0.8" height="0.8" fill="rgb(80,80,80)"/>
<rect x="399.9" y="392.2" width="1" height="1" fill="rgb(119,119,119)"/>
<rect x="405.6" y="401.4" width="1.8" height="1.8" fill="rgb(120,120,120)"/>
<rect x="382.9" y="400.1" width="1.8" height="1.8" fill="rgb(130,130,130)"/>
<rect x="401.5" y="386.3" width="2.2" height="2.2" fill="rgb(73,73,73)"/>
<rect x="408.2" y="379.1" width="1.5" height="1.5" fill="rgb(84,84,84)"/>
<rect x="398.4" y="405.2" width="1.2" height="1.2" fill="rgb(87,87,87)"/>
<rect x="394.2" y="397.6" width="1.8" height="1.8" fill="rgb(101,101,101)"/>
<rect x="383.6" y="391.1" width="1" height="1" fill="rgb(67,67,67)"/>
<rect x="380.6" y="402.4" width="1.5" height="1.5" fill="rgb(126,126,126)"/>
</g></g>
<filter id="pn1" x="0" y="0" width="100%" height="100%" color-interpolation-filters="sRGB"><feTurbulence type="fractalNoise" baseFrequency="0.75" numOctaves="2" seed="12"/><feColorMatrix type="matrix" values="0 0 0 0 0 0 0 0 0 0 0 0 0 0 0 3.2 0 0 0 -1.45"/><feGaussianBlur stdDeviation="0.4"/><feComposite in2="SourceGraphic" operator="in"/></filter>
<clipPath id="pc1"><circle cx="393.4" cy="436.9" r="20.700000000000003"/></clipPath>
<circle cx="393.4" cy="436.9" r="22.900000000000002" fill="#ebebeb" stroke="#7a7a7a" stroke-width="1.4"/>
<circle cx="393.4" cy="436.9" r="21.0" fill="#e2e2e2" stroke="#8c8c8c" stroke-width="1"/>
<g clip-path="url(#pc1)">
<rect x="369.79999999999995" y="413.29999999999995" width="47.2" height="47.2" fill="#333" filter="url(#pn1)" opacity="0.15"/>
<g filter="url(#b0_5)">
<rect x="405.6" y="430.0" width="1.8" height="1.8" fill="rgb(96,96,96)"/>
<rect x="377.8" y="434.6" width="0.8" height="0.8" fill="rgb(136,136,136)"/>
<rect x="378.6" y="424.9" width="1" height="1" fill="rgb(102,102,102)"/>
<rect x="387.4" y="431.4" width="0.8" height="0.8" fill="rgb(87,87,87)"/>
<rect x="381.1" y="435.5" width="1.8" height="1.8" fill="rgb(141,141,141)"/>
<rect x="408.4" y="448.7" width="1.8" height="1.8" fill="rgb(87,87,87)"/>
<rect x="391.6" y="447.5" width="0.8" height="0.8" fill="rgb(144,144,144)"/>
<rect x="407.7" y="439.4" width="0.8" height="0.8" fill="rgb(136,136,136)"/>
<rect x="405.6" y="434.8" width="1.8" height="1.8" fill="rgb(145,145,145)"/>
<rect x="391.8" y="446.4" width="1.8" height="1.8" fill="rgb(148,148,148)"/>
<rect x="374.0" y="436.0" width="1" height="1" fill="rgb(146,146,146)"/>
<rect x="412.3" y="429.7" width="1.2" height="1.2" fill="rgb(105,105,105)"/>
<rect x="406.3" y="451.9" width="0.8" height="0.8" fill="rgb(130,130,130)"/>
<rect x="406.3" y="443.2" width="1" height="1" fill="rgb(134,134,134)"/>
<rect x="390.6" y="431.8" width="0.8" height="0.8" fill="rgb(99,99,99)"/>
<rect x="380.4" y="420.5" width="1.2" height="1.2" fill="rgb(98,98,98)"/>
<rect x="400.5" y="445.2" width="1.5" height="1.5" fill="rgb(108,108,108)"/>
<rect x="408.9" y="447.3" width="1.5" height="1.5" fill="rgb(100,100,100)"/>
<rect x="404.0" y="418.2" width="1" height="1" fill="rgb(135,135,135)"/>
<rect x="375.7" y="449.1" width="1.5" height="1.5" fill="rgb(105,105,105)"/>
<rect x="404.2" y="444.0" width="1.2" height="1.2" fill="rgb(82,82,82)"/>
<rect x="381.3" y="440.1" width="2.2" height="2.2" fill="rgb(82,82,82)"/>
<rect x="380.1" y="435.4" width="1.2" height="1.2" fill="rgb(145,145,145)"/>
<rect x="409.5" y="450.7" width="1" height="1" fill="rgb(93,93,93)"/>
<rect x="392.5" y="443.1" width="1" height="1" fill="rgb(114,114,114)"/>
<rect x="401.4" y="419.9" width="2.2" height="2.2" fill="rgb(113,113,113)"/>
<rect x="380.0" y="433.8" width="1.8" height="1.8" fill="rgb(143,143,143)"/>
<rect x="408.7" y="446.5" width="0.8" height="0.8" fill="rgb(103,103,103)"/>
<rect x="406.1" y="443.1" width="0.8" height="0.8" fill="rgb(91,91,91)"/>
<rect x="410.1" y="446.6" width="1" height="1" fill="rgb(88,88,88)"/>
<rect x="401.4" y="444.6" width="0.8" height="0.8" fill="rgb(123,123,123)"/>
<rect x="374.7" y="447.5" width="1.2" height="1.2" fill="rgb(96,96,96)"/>
<rect x="392.3" y="432.6" width="0.8" height="0.8" fill="rgb(100,100,100)"/>
<rect x="398.0" y="446.9" width="1.2" height="1.2" fill="rgb(119,119,119)"/>
<rect x="397.7" y="452.0" width="1.5" height="1.5" fill="rgb(144,144,144)"/>
</g></g>
<filter id="pn2" x="0" y="0" width="100%" height="100%" color-interpolation-filters="sRGB"><feTurbulence type="fractalNoise" baseFrequency="0.9" numOctaves="2" seed="13"/><feColorMatrix type="matrix" values="0 0 0 0 0 0 0 0 0 0 0 0 0 0 0 3.2 0 0 0 -1.45"/><feGaussianBlur stdDeviation="0.4"/><feComposite in2="SourceGraphic" operator="in"/></filter>
<clipPath id="pc2"><circle cx="393.4" cy="488.6" r="21.700000000000003"/></clipPath>
<circle cx="393.4" cy="488.6" r="23.900000000000002" fill="#ebebeb" stroke="#7a7a7a" stroke-width="1.4"/>
<circle cx="393.4" cy="488.6" r="22.0" fill="#b8b8b8" stroke="#8c8c8c" stroke-width="1"/>
<g clip-path="url(#pc2)">
<rect x="368.79999999999995" y="464.0" width="49.2" height="49.2" fill="#333" filter="url(#pn2)" opacity="0.6"/>
<g filter="url(#b0_5)">
<rect x="391.0" y="507.0" width="0.8" height="0.8" fill="rgb(56,56,56)"/>
<rect x="397.7" y="489.1" width="1.8" height="1.8" fill="rgb(75,75,75)"/>
<rect x="371.1" y="486.6" width="1" height="1" fill="rgb(99,99,99)"/>
<rect x="385.2" y="475.9" width="2.2" height="2.2" fill="rgb(67,67,67)"/>
<rect x="375.8" y="483.4" width="1.5" height="1.5" fill="rgb(72,72,72)"/>
<rect x="396.1" y="500.8" width="1" height="1" fill="rgb(61,61,61)"/>
<rect x="400.8" y="481.8" width="2.2" height="2.2" fill="rgb(80,80,80)"/>
<rect x="401.8" y="488.0" width="0.8" height="0.8" fill="rgb(93,93,93)"/>
<rect x="400.8" y="492.1" width="2.2" height="2.2" fill="rgb(96,96,96)"/>
<rect x="399.3" y="498.4" width="0.8" height="0.8" fill="rgb(82,82,82)"/>
<rect x="407.6" y="473.5" width="2.2" height="2.2" fill="rgb(58,58,58)"/>
<rect x="387.2" y="472.2" width="0.8" height="0.8" fill="rgb(69,69,69)"/>
<rect x="392.2" y="498.3" width="0.8" height="0.8" fill="rgb(56,56,56)"/>
<rect x="386.9" y="500.6" width="1.8" height="1.8" fill="rgb(60,60,60)"/>
<rect x="404.3" y="486.2" width="1.2" height="1.2" fill="rgb(53,53,53)"/>
<rect x="406.9" y="488.7" width="1.5" height="1.5" fill="rgb(45,45,45)"/>
<rect x="377.8" y="488.3" width="1" height="1" fill="rgb(55,55,55)"/>
<rect x="409.4" y="489.1" width="1.2" height="1.2" fill="rgb(92,92,92)"/>
<rect x="387.9" y="492.6" width="0.8" height="0.8" fill="rgb(65,65,65)"/>
<rect x="392.3" y="491.8" width="1" height="1" fill="rgb(45,45,45)"/>
<rect x="376.4" y="485.4" width="1" height="1" fill="rgb(82,82,82)"/>
<rect x="397.9" y="467.7" width="1.8" height="1.8" fill="rgb(64,64,64)"/>
<rect x="389.8" y="469.2" width="1.5" height="1.5" fill="rgb(49,49,49)"/>
<rect x="384.5" y="480.4" width="1" height="1" fill="rgb(42,42,42)"/>
<rect x="388.9" y="468.6" width="1.8" height="1.8" fill="rgb(80,80,80)"/>
<rect x="388.9" y="474.5" width="1.8" height="1.8" fill="rgb(48,48,48)"/>
<rect x="393.8" y="467.0" width="1.8" height="1.8" fill="rgb(93,93,93)"/>
<rect x="413.7" y="490.7" width="2.2" height="2.2" fill="rgb(77,77,77)"/>
<rect x="388.5" y="469.0" width="2.2" height="2.2" fill="rgb(81,81,81)"/>
<rect x="404.0" y="490.7" width="1" height="1" fill="rgb(80,80,80)"/>
<rect x="404.1" y="496.9" width="1.5" height="1.5" fill="rgb(75,75,75)"/>
<rect x="398.5" y="489.2" width="1.8" height="1.8" fill="rgb(83,83,83)"/>
<rect x="392.4" y="499.7" width="1.5" height="1.5" fill="rgb(91,91,91)"/>
<rect x="398.9" y="486.1" width="1.8" height="1.8" fill="rgb(45,45,45)"/>
<rect x="410.2" y="496.0" width="2.2" height="2.2" fill="rgb(70,70,70)"/>
<rect x="403.5" y="493.7" width="1.2" height="1.2" fill="rgb(55,55,55)"/>
<rect x="398.8" y="507.1" width="2.2" height="2.2" fill="rgb(81,81,81)"/>
<rect x="371.1" y="489.5" width="1.5" height="1.5" fill="rgb(44,44,44)"/>
<rect x="387.1" y="474.3" width="0.8" height="0.8" fill="rgb(79,79,79)"/>
<rect x="399.1" y="505.6" width="1.8" height="1.8" fill="rgb(49,49,49)"/>
<rect x="385.8" y="478.0" width="2.2" height="2.2" fill="rgb(59,59,59)"/>
<rect x="405.3" y="501.8" width="1.5" height="1.5" fill="rgb(43,43,43)"/>
<rect x="408.9" y="485.9" width="0.8" height="0.8" fill="rgb(84,84,84)"/>
<rect x="382.9" y="489.3" width="2.2" height="2.2" fill="rgb(73,73,73)"/>
<rect x="381.6" y="491.2" width="0.8" height="0.8" fill="rgb(97,97,97)"/>
<rect x="387.1" y="504.1" width="0.8" height="0.8" fill="rgb(99,99,99)"/>
<rect x="389.6" y="503.7" width="0.8" height="0.8" fill="rgb(92,92,92)"/>
<rect x="409.5" y="488.1" width="1.2" height="1.2" fill="rgb(64,64,64)"/>
<rect x="403.2" y="485.1" width="1" height="1" fill="rgb(44,44,44)"/>
<rect x="404.2" y="502.0" width="1.8" height="1.8" fill="rgb(56,56,56)"/>
<rect x="408.2" y="504.9" width="2.2" height="2.2" fill="rgb(72,72,72)"/>
<rect x="402.5" y="496.4" width="1.2" height="1.2" fill="rgb(54,54,54)"/>
<rect x="404.8" y="477.4" width="1.5" height="1.5" fill="rgb(41,41,41)"/>
<rect x="402.0" y="485.8" width="2.2" height="2.2" fill="rgb(68,68,68)"/>
<rect x="391.3" y="474.4" width="1.5" height="1.5" fill="rgb(62,62,62)"/>
<rect x="403.4" y="498.1" width="1.2" height="1.2" fill="rgb(40,40,40)"/>
<rect x="386.6" y="499.5" width="1.5" height="1.5" fill="rgb(47,47,47)"/>
<rect x="400.7" y="509.2" width="0.8" height="0.8" fill="rgb(97,97,97)"/>
<rect x="393.0" y="508.0" width="0.8" height="0.8" fill="rgb(65,65,65)"/>
<rect x="403.1" y="478.3" width="0.8" height="0.8" fill="rgb(63,63,63)"/>
<rect x="394.2" y="466.9" width="0.8" height="0.8" fill="rgb(57,57,57)"/>
<rect x="397.1" y="482.4" width="1.2" height="1.2" fill="rgb(80,80,80)"/>
<rect x="393.5" y="510.5" width="1.2" height="1.2" fill="rgb(67,67,67)"/>
<rect x="399.4" y="503.6" width="1.2" height="1.2" fill="rgb(90,90,90)"/>
<rect x="409.9" y="473.9" width="2.2" height="2.2" fill="rgb(65,65,65)"/>
<rect x="413.5" y="480.7" width="1.8" height="1.8" fill="rgb(53,53,53)"/>
<rect x="411.7" y="494.5" width="2.2" height="2.2" fill="rgb(66,66,66)"/>
<rect x="393.7" y="473.4" width="2.2" height="2.2" fill="rgb(95,95,95)"/>
<rect x="404.9" y="492.3" width="1.8" height="1.8" fill="rgb(48,48,48)"/>
<rect x="385.4" y="493.4" width="1.2" height="1.2" fill="rgb(59,59,59)"/>
<rect x="392.6" y="477.2" width="2.2" height="2.2" fill="rgb(56,56,56)"/>
<rect x="394.4" y="503.0" width="1.5" height="1.5" fill="rgb(75,75,75)"/>
<rect x="406.9" y="501.2" width="2.2" height="2.2" fill="rgb(50,50,50)"/>
<rect x="387.2" y="488.6" width="1.5" height="1.5" fill="rgb(75,75,75)"/>
<rect x="402.2" y="482.7" width="1.5" height="1.5" fill="rgb(67,67,67)"/>
<rect x="396.4" y="496.5" width="0.8" height="0.8" fill="rgb(51,51,51)"/>
<rect x="404.5" y="495.8" width="1" height="1" fill="rgb(63,63,63)"/>
<rect x="383.0" y="483.7" width="0.8" height="0.8" fill="rgb(87,87,87)"/>
<rect x="377.8" y="502.8" width="2.2" height="2.2" fill="rgb(73,73,73)"/>
<rect x="392.1" y="498.9" width="0.8" height="0.8" fill="rgb(71,71,71)"/>
<rect x="405.1" y="486.2" width="1" height="1" fill="rgb(83,83,83)"/>
<rect x="382.4" y="476.9" width="1" height="1" fill="rgb(45,45,45)"/>
<rect x="393.5" y="500.4" width="1.5" height="1.5" fill="rgb(81,81,81)"/>
<rect x="407.9" y="484.3" width="0.8" height="0.8" fill="rgb(48,48,48)"/>
<rect x="392.4" y="484.7" width="1.5" height="1.5" fill="rgb(77,77,77)"/>
<rect x="407.6" y="495.6" width="1.8" height="1.8" fill="rgb(94,94,94)"/>
<rect x="378.7" y="493.5" width="0.8" height="0.8" fill="rgb(54,54,54)"/>
<rect x="384.6" y="487.4" width="2.2" height="2.2" fill="rgb(46,46,46)"/>
<rect x="389.5" y="467.0" width="2.2" height="2.2" fill="rgb(94,94,94)"/>
<rect x="374.3" y="493.8" width="1.8" height="1.8" fill="rgb(89,89,89)"/>
<rect x="394.3" y="484.2" width="1" height="1" fill="rgb(76,76,76)"/>
<rect x="380.2" y="471.4" width="1.2" height="1.2" fill="rgb(48,48,48)"/>
<rect x="375.8" y="485.4" width="1.5" height="1.5" fill="rgb(84,84,84)"/>
<rect x="409.4" y="500.2" width="1.2" height="1.2" fill="rgb(73,73,73)"/>
<rect x="401.3" y="509.1" width="1.2" height="1.2" fill="rgb(54,54,54)"/>
<rect x="413.5" y="488.7" width="1.8" height="1.8" fill="rgb(59,59,59)"/>
<rect x="389.4" y="510.8" width="1.2" height="1.2" fill="rgb(81,81,81)"/>
<rect x="394.4" y="509.3" width="1.8" height="1.8" fill="rgb(55,55,55)"/>
<rect x="409.8" y="491.7" width="1.5" height="1.5" fill="rgb(85,85,85)"/>
<rect x="410.5" y="494.8" width="1" height="1" fill="rgb(71,71,71)"/>
<rect x="380.6" y="471.6" width="0.8" height="0.8" fill="rgb(56,56,56)"/>
<rect x="383.8" y="493.5" width="1.2" height="1.2" fill="rgb(54,54,54)"/>
<rect x="388.1" y="473.6" width="2.2" height="2.2" fill="rgb(66,66,66)"/>
<rect x="382.6" y="496.8" width="0.8" height="0.8" fill="rgb(91,91,91)"/>
<rect x="400.3" y="478.5" width="0.8" height="0.8" fill="rgb(53,53,53)"/>
<rect x="398.3" y="503.7" width="1" height="1" fill="rgb(54,54,54)"/>
<rect x="391.9" y="503.9" width="1.2" height="1.2" fill="rgb(46,46,46)"/>
<rect x="371.4" y="489.2" width="1" height="1" fill="rgb(97,97,97)"/>
<rect x="384.1" y="493.9" width="2.2" height="2.2" fill="rgb(43,43,43)"/>
<rect x="406.7" y="506.1" width="1.5" height="1.5" fill="rgb(43,43,43)"/>
<rect x="403.7" y="486.9" width="1" height="1" fill="rgb(66,66,66)"/>
<rect x="398.2" y="490.5" width="1.5" height="1.5" fill="rgb(68,68,68)"/>
<rect x="409.3" y="474.3" width="2.2" height="2.2" fill="rgb(47,47,47)"/>
<rect x="413.9" y="479.2" width="1.2" height="1.2" fill="rgb(52,52,52)"/>
<rect x="402.4" y="484.8" width="2.2" height="2.2" fill="rgb(69,69,69)"/>
<rect x="391.3" y="485.1" width="1.5" height="1.5" fill="rgb(93,93,93)"/>
<rect x="386.6" y="500.6" width="1" height="1" fill="rgb(46,46,46)"/>
<rect x="393.2" y="489.8" width="1.2" height="1.2" fill="rgb(66,66,66)"/>
<rect x="409.1" y="504.1" width="1" height="1" fill="rgb(64,64,64)"/>
<rect x="399.3" y="476.4" width="1.5" height="1.5" fill="rgb(45,45,45)"/>
<rect x="388.5" y="489.4" width="1.2" height="1.2" fill="rgb(74,74,74)"/>
<rect x="401.0" y="508.9" width="1.2" height="1.2" fill="rgb(87,87,87)"/>
<rect x="414.4" y="492.6" width="1.5" height="1.5" fill="rgb(55,55,55)"/>
<rect x="395.5" y="468.3" width="0.8" height="0.8" fill="rgb(64,64,64)"/>
<rect x="397.3" y="490.2" width="0.8" height="0.8" fill="rgb(56,56,56)"/>
<rect x="402.6" y="492.4" width="1.8" height="1.8" fill="rgb(61,61,61)"/>
<rect x="386.5" y="500.3" width="1.8" height="1.8" fill="rgb(42,42,42)"/>
<rect x="391.0" y="477.3" width="1.2" height="1.2" fill="rgb(99,99,99)"/>
<rect x="405.3" y="488.9" width="1.8" height="1.8" fill="rgb(98,98,98)"/>
<rect x="412.5" y="481.9" width="0.8" height="0.8" fill="rgb(41,41,41)"/>
<rect x="409.4" y="501.4" width="2.2" height="2.2" fill="rgb(69,69,69)"/>
<rect x="376.7" y="503.0" width="1.2" height="1.2" fill="rgb(98,98,98)"/>
<rect x="378.6" y="489.2" width="1.5" height="1.5" fill="rgb(51,51,51)"/>
<rect x="395.3" y="487.7" width="1.2" height="1.2" fill="rgb(92,92,92)"/>
<rect x="404.3" y="503.9" width="1" height="1" fill="rgb(60,60,60)"/>
<rect x="373.1" y="493.7" width="1.8" height="1.8" fill="rgb(45,45,45)"/>
<rect x="380.8" y="498.8" width="1" height="1" fill="rgb(55,55,55)"/>
<rect x="384.9" y="477.0" width="1.5" height="1.5" fill="rgb(75,75,75)"/>
<rect x="402.3" y="502.7" width="1.5" height="1.5" fill="rgb(96,96,96)"/>
<rect x="400.0" y="491.8" width="1.8" height="1.8" fill="rgb(45,45,45)"/>
<rect x="384.3" y="493.5" width="2.2" height="2.2" fill="rgb(68,68,68)"/>
<rect x="399.7" y="495.6" width="1.5" height="1.5" fill="rgb(79,79,79)"/>
<rect x="395.4" y="509.8" width="1.8" height="1.8" fill="rgb(94,94,94)"/>
<rect x="394.6" y="468.8" width="1.2" height="1.2" fill="rgb(58,58,58)"/>
<rect x="392.1" y="500.5" width="1.2" height="1.2" fill="rgb(87,87,87)"/>
<rect x="382.7" y="492.9" width="1" height="1" fill="rgb(55,55,55)"/>
<rect x="391.3" y="499.4" width="1.8" height="1.8" fill="rgb(52,52,52)"/>
<rect x="383.1" y="496.4" width="1" height="1" fill="rgb(72,72,72)"/>
<rect x="383.7" y="475.4" width="0.8" height="0.8" fill="rgb(81,81,81)"/>
<rect x="408.4" y="492.1" width="0.8" height="0.8" fill="rgb(70,70,70)"/>
<rect x="395.9" y="509.7" width="1.5" height="1.5" fill="rgb(98,98,98)"/>
<rect x="403.3" y="478.9" width="1" height="1" fill="rgb(47,47,47)"/>
<rect x="389.3" y="485.6" width="1.8" height="1.8" fill="rgb(52,52,52)"/>
<rect x="378.3" y="504.3" width="1" height="1" fill="rgb(68,68,68)"/>
<rect x="396.1" y="471.3" width="2.2" height="2.2" fill="rgb(100,100,100)"/>
<rect x="392.2" y="487.2" width="2.2" height="2.2" fill="rgb(79,79,79)"/>
<rect x="406.4" y="491.7" width="1.2" height="1.2" fill="rgb(49,49,49)"/>
<rect x="398.1" y="488.6" width="0.8" height="0.8" fill="rgb(78,78,78)"/>
<rect x="410.0" y="478.6" width="0.8" height="0.8" fill="rgb(92,92,92)"/>
<rect x="387.8" y="477.0" width="1" height="1" fill="rgb(79,79,79)"/>
<rect x="397.0" y="500.7" width="1.5" height="1.5" fill="rgb(75,75,75)"/>
<rect x="380.2" y="497.2" width="1.5" height="1.5" fill="rgb(82,82,82)"/>
<rect x="382.6" y="475.7" width="0.8" height="0.8" fill="rgb(81,81,81)"/>
<rect x="390.3" y="480.0" width="1.5" height="1.5" fill="rgb(58,58,58)"/>
<rect x="377.3" y="497.7" width="0.8" height="0.8" fill="rgb(59,59,59)"/>
<rect x="407.9" y="475.6" width="1.5" height="1.5" fill="rgb(66,66,66)"/>
<rect x="393.7" y="485.6" width="1.2" height="1.2" fill="rgb(81,81,81)"/>
<rect x="392.0" y="478.7" width="1" height="1" fill="rgb(100,100,100)"/>
<rect x="394.8" y="487.6" width="1.5" height="1.5" fill="rgb(47,47,47)"/>
<rect x="376.4" y="500.0" width="1.2" height="1.2" fill="rgb(69,69,69)"/>
</g></g>
<path d="M372.5,392 A23,23 0 0 0 393,409" fill="none" stroke="#777" stroke-width="1.2" opacity="0.7"/>
<rect x="392" y="409.5" width="2" height="4" fill="#777"/><rect x="392" y="460.5" width="2" height="4" fill="#777"/>
</g>
<rect x="430.1" y="360.1" width="204.4" height="154.7" fill="none" stroke="#222" stroke-width="1.2"/>
<rect x="430.1" y="371.2" width="98.92960000000005" height="21.5" fill="#161616"/>
<line x1="529.0296000000001" y1="381.95" x2="548.0388" y2="381.95" stroke="#222" stroke-width="1.2"/>
<line x1="548.0388" y1="379.95" x2="548.0388" y2="383.95" stroke="#222" stroke-width="1.2"/>
<rect x="430.1" y="425.7" width="55.59680000000003" height="21.100000000000023" fill="#161616"/>
<line x1="485.69680000000005" y1="436.25" x2="494.997" y2="436.25" stroke="#222" stroke-width="1.2"/>
<line x1="494.997" y1="434.25" x2="494.997" y2="438.25" stroke="#222" stroke-width="1.2"/>
<rect x="430.1" y="479.5" width="145.02179999999998" height="21.100000000000023" fill="#161616"/>
<line x1="575.1218" y1="490.05" x2="588.2034000000001" y2="490.05" stroke="#222" stroke-width="1.2"/>
<line x1="588.2034000000001" y1="488.05" x2="588.2034000000001" y2="492.05" stroke="#222" stroke-width="1.2"/>
<text x="430.1" y="533.6" font-size="14.6" text-anchor="middle" >0</text>
<text x="481.20000000000005" y="533.6" font-size="14.6" text-anchor="middle" >50</text>
<text x="532.3000000000001" y="533.6" font-size="14.6" text-anchor="middle" >100</text>
<text x="583.4000000000001" y="533.6" font-size="14.6" text-anchor="middle" >150</text>
<text x="634.5" y="533.6" font-size="14.6" text-anchor="middle" >200</text>
<text x="532.4" y="553.7" font-size="14.6" text-anchor="middle" >ALP activity</text>
<text x="532.1" y="570.1" font-size="14.8" text-anchor="middle" >(nmol p-NP per min per mg protein)</text>
<text class="pl" font-size="18" transform="translate(21.16 608.8) scale(0.94 1)" x="0" y="0" fill="#0d0d0d">G</text>
<rect x="83.5" y="615.4" width="250.89999999999998" height="169.80000000000007" fill="none" stroke="#333" stroke-width="1.2"/>
<line x1="78.5" y1="785.2" x2="83.5" y2="785.2" stroke="#333" stroke-width="1.2"/>
<text x="72.4" y="790.2" font-size="14.3" text-anchor="end" >0</text>
<line x1="78.5" y1="751.24" x2="83.5" y2="751.24" stroke="#333" stroke-width="1.2"/>
<text x="72.4" y="756.24" font-size="14.3" text-anchor="end" >5</text>
<line x1="78.5" y1="717.28" x2="83.5" y2="717.28" stroke="#333" stroke-width="1.2"/>
<text x="72.4" y="722.28" font-size="14.3" text-anchor="end" >10</text>
<line x1="78.5" y1="683.32" x2="83.5" y2="683.32" stroke="#333" stroke-width="1.2"/>
<text x="72.4" y="688.32" font-size="14.3" text-anchor="end" >15</text>
<line x1="78.5" y1="649.36" x2="83.5" y2="649.36" stroke="#333" stroke-width="1.2"/>
<text x="72.4" y="654.36" font-size="14.3" text-anchor="end" >20</text>
<line x1="78.5" y1="615.4" x2="83.5" y2="615.4" stroke="#333" stroke-width="1.2"/>
<text x="72.4" y="620.4" font-size="14.3" text-anchor="end" >25</text>
<line x1="167.13333333333333" y1="781.2" x2="167.13333333333333" y2="785.2" stroke="#333" stroke-width="1.2"/>
<line x1="250.76666666666665" y1="781.2" x2="250.76666666666665" y2="785.2" stroke="#333" stroke-width="1.2"/>
<text x="84.5" y="805.3" font-size="14.3" text-anchor="middle" >D0</text>
<text x="167.13333333333333" y="805.3" font-size="14.3" text-anchor="middle" >7</text>
<text x="250.76666666666665" y="805.3" font-size="14.3" text-anchor="middle" >14</text>
<text x="331.4" y="805.3" font-size="14.3" text-anchor="middle" >21</text>
<text x="208.95" y="826.1" font-size="14.3" text-anchor="middle" >Days</text>
<text x="0" y="0" font-size="14.65" text-anchor="middle" transform="translate(44.7 701.9) rotate(-90)"><tspan font-style="italic">OSX</tspan> mRNA (fold induction)</text>
<polyline points="83.5,778.4 167.1,751.2 250.8,729.5 334.4,688.8" fill="none" stroke="#444" stroke-width="1.2"/>
<polyline points="83.5,779.1 167.1,755.3 250.8,760.7 334.4,734.3" fill="none" stroke="#111" stroke-width="1.5"/>
<polyline points="83.5,777.0 167.1,735.6 250.8,703.0 334.4,654.1" fill="none" stroke="#111" stroke-width="1.5"/>
<line x1="83.5" y1="776.3704" x2="83.5" y2="780.4456" stroke="#333" stroke-width="1.2"/>
<line x1="78.5" y1="776.3704" x2="88.5" y2="776.3704" stroke="#333" stroke-width="1.2"/>
<line x1="78.5" y1="780.4456" x2="88.5" y2="780.4456" stroke="#333" stroke-width="1.2"/>
<polygon points="83.5,772.908 89.0,778.408 83.5,783.908 78.0,778.408" fill="#444"/>
<line x1="167.13333333333333" y1="748.5232000000001" x2="167.13333333333333" y2="753.9568" stroke="#333" stroke-width="1.2"/>
<line x1="162.13333333333333" y1="748.5232000000001" x2="172.13333333333333" y2="748.5232000000001" stroke="#333" stroke-width="1.2"/>
<line x1="162.13333333333333" y1="753.9568" x2="172.13333333333333" y2="753.9568" stroke="#333" stroke-width="1.2"/>
<polygon points="167.13333333333333,745.74 172.63333333333333,751.24 167.13333333333333,756.74 161.63333333333333,751.24" fill="#444"/>
<line x1="250.76666666666665" y1="723.3928000000001" x2="250.76666666666665" y2="735.6184000000001" stroke="#333" stroke-width="1.2"/>
<line x1="245.76666666666665" y1="723.3928000000001" x2="255.76666666666665" y2="723.3928000000001" stroke="#333" stroke-width="1.2"/>
<line x1="245.76666666666665" y1="735.6184000000001" x2="255.76666666666665" y2="735.6184000000001" stroke="#333" stroke-width="1.2"/>
<polygon points="250.76666666666665,724.0056000000001 256.26666666666665,729.5056000000001 250.76666666666665,735.0056000000001 245.26666666666665,729.5056000000001" fill="#444"/>
<line x1="334.4" y1="671.7736" x2="334.4" y2="705.7336" stroke="#333" stroke-width="1.2"/>
<line x1="329.4" y1="671.7736" x2="339.4" y2="671.7736" stroke="#333" stroke-width="1.2"/>
<line x1="329.4" y1="705.7336" x2="339.4" y2="705.7336" stroke="#333" stroke-width="1.2"/>
<polygon points="334.4,682.7536 340.4,688.7536 334.4,694.7536 328.4,688.7536" fill="#444"/>
<line x1="83.5" y1="777.7288000000001" x2="83.5" y2="780.4456" stroke="#333" stroke-width="1.2"/>
<line x1="78.5" y1="777.7288000000001" x2="88.5" y2="777.7288000000001" stroke="#333" stroke-width="1.2"/>
<line x1="78.5" y1="780.4456" x2="88.5" y2="780.4456" stroke="#333" stroke-width="1.2"/>
<rect x="79.0" y="774.5872" width="9" height="9" fill="#111"/>
<line x1="167.13333333333333" y1="753.2776" x2="167.13333333333333" y2="757.3528" stroke="#333" stroke-width="1.2"/>
<line x1="162.13333333333333" y1="753.2776" x2="172.13333333333333" y2="753.2776" stroke="#333" stroke-width="1.2"/>
<line x1="162.13333333333333" y1="757.3528" x2="172.13333333333333" y2="757.3528" stroke="#333" stroke-width="1.2"/>
<rect x="162.63333333333333" y="750.8152" width="9" height="9" fill="#111"/>
<line x1="250.76666666666665" y1="758.7112000000001" x2="250.76666666666665" y2="762.7864000000001" stroke="#333" stroke-width="1.2"/>
<line x1="245.76666666666665" y1="758.7112000000001" x2="255.76666666666665" y2="758.7112000000001" stroke="#333" stroke-width="1.2"/>
<line x1="245.76666666666665" y1="762.7864000000001" x2="255.76666666666665" y2="762.7864000000001" stroke="#333" stroke-width="1.2"/>
<rect x="246.51666666666665" y="756.4988000000001" width="8.5" height="8.5" fill="#111"/>
<line x1="334.4" y1="712.5256" x2="334.4" y2="755.9944" stroke="#333" stroke-width="1.2"/>
<line x1="329.4" y1="712.5256" x2="339.4" y2="712.5256" stroke="#333" stroke-width="1.2"/>
<line x1="329.4" y1="755.9944" x2="339.4" y2="755.9944" stroke="#333" stroke-width="1.2"/>
<rect x="330.15" y="730.01" width="8.5" height="8.5" fill="#111"/>
<line x1="83.5" y1="775.0120000000001" x2="83.5" y2="779.0872" stroke="#333" stroke-width="1.2"/>
<line x1="78.5" y1="775.0120000000001" x2="88.5" y2="775.0120000000001" stroke="#333" stroke-width="1.2"/>
<line x1="78.5" y1="779.0872" x2="88.5" y2="779.0872" stroke="#333" stroke-width="1.2"/>
<polygon points="83.5,771.2746000000001 78.25,781.4596 88.75,781.4596" fill="#111"/>
<line x1="167.13333333333333" y1="731.5432000000001" x2="167.13333333333333" y2="739.6936000000001" stroke="#333" stroke-width="1.2"/>
<line x1="162.13333333333333" y1="731.5432000000001" x2="172.13333333333333" y2="731.5432000000001" stroke="#333" stroke-width="1.2"/>
<line x1="162.13333333333333" y1="739.6936000000001" x2="172.13333333333333" y2="739.6936000000001" stroke="#333" stroke-width="1.2"/>
<polygon points="167.13333333333333,729.8434000000001 161.88333333333333,740.0284 172.38333333333333,740.0284" fill="#111"/>
<line x1="250.76666666666665" y1="700.9792" x2="250.76666666666665" y2="705.0544" stroke="#333" stroke-width="1.2"/>
<line x1="245.76666666666665" y1="700.9792" x2="255.76666666666665" y2="700.9792" stroke="#333" stroke-width="1.2"/>
<line x1="245.76666666666665" y1="705.0544" x2="255.76666666666665" y2="705.0544" stroke="#333" stroke-width="1.2"/>
<polygon points="250.76666666666665,697.2418 245.51666666666665,707.4268 256.01666666666665,707.4268" fill="#111"/>
<line x1="334.4" y1="636.4552" x2="334.4" y2="671.7736" stroke="#333" stroke-width="1.2"/>
<line x1="329.4" y1="636.4552" x2="339.4" y2="636.4552" stroke="#333" stroke-width="1.2"/>
<line x1="329.4" y1="671.7736" x2="339.4" y2="671.7736" stroke="#333" stroke-width="1.2"/>
<polygon points="334.4,648.3394 329.15,658.5243999999999 339.65,658.5243999999999" fill="#111"/>
<rect x="91.9" y="622.9" width="104.9" height="52.200000000000045" fill="#fff" stroke="#333" stroke-width="1.2"/>
<line x1="95.4" y1="631.1" x2="117.4" y2="631.1" stroke="#444" stroke-width="1.3"/>
<polygon points="106.9,626.85 111.15,631.1 106.9,635.35 102.65,631.1" fill="#444"/>
<text x="124.10000000000001" y="636.7" font-size="14.3" text-anchor="start" >Mock</text>
<line x1="95.4" y1="649.2" x2="117.4" y2="649.2" stroke="#111" stroke-width="1.3"/>
<rect x="103.15" y="645.45" width="7.5" height="7.5" fill="#111"/>
<text x="124.10000000000001" y="654.8000000000001" font-size="14.3" text-anchor="start" >FBL12 WT</text>
<line x1="95.4" y1="665.9" x2="117.4" y2="665.9" stroke="#111" stroke-width="1.3"/>
<polygon points="106.9,661.225 102.65,669.47 111.15,669.47" fill="#111"/>
<text x="124.10000000000001" y="671.5" font-size="14.3" text-anchor="start" >FBL12 &#916;F</text>
<rect x="418.7" y="615" width="237.3" height="167.70000000000005" fill="none" stroke="#333" stroke-width="1.2"/>
<line x1="413.7" y1="782.7" x2="418.7" y2="782.7" stroke="#333" stroke-width="1.2"/>
<text x="408.6" y="787.7" font-size="14.3" text-anchor="end" >0</text>
<line x1="413.7" y1="745.4333333333334" x2="418.7" y2="745.4333333333334" stroke="#333" stroke-width="1.2"/>
<text x="408.6" y="750.4333333333334" font-size="14.3" text-anchor="end" >10</text>
<line x1="413.7" y1="708.1666666666667" x2="418.7" y2="708.1666666666667" stroke="#333" stroke-width="1.2"/>
<text x="408.6" y="713.1666666666667" font-size="14.3" text-anchor="end" >20</text>
<line x1="413.7" y1="670.9" x2="418.7" y2="670.9" stroke="#333" stroke-width="1.2"/>
<text x="408.6" y="675.9" font-size="14.3" text-anchor="end" >30</text>
<line x1="413.7" y1="633.6333333333333" x2="418.7" y2="633.6333333333333" stroke="#333" stroke-width="1.2"/>
<text x="408.6" y="638.6333333333333" font-size="14.3" text-anchor="end" >40</text>
<line x1="497.8" y1="778.7" x2="497.8" y2="782.7" stroke="#333" stroke-width="1.2"/>
<line x1="576.9" y1="778.7" x2="576.9" y2="782.7" stroke="#333" stroke-width="1.2"/>
<text x="420.2" y="805.3" font-size="14.3" text-anchor="middle" >D0</text>
<text x="497.8" y="805.3" font-size="14.3" text-anchor="middle" >7</text>
<text x="577.9" y="805.3" font-size="14.3" text-anchor="middle" >14</text>
<text x="656.0" y="805.3" font-size="14.3" text-anchor="middle" >21</text>
<text x="539.35" y="826.1" font-size="14.3" text-anchor="middle" >Days</text>
<text x="0" y="0" font-size="14.65" text-anchor="middle" transform="translate(379.6 700.45) rotate(-90)"><tspan font-style="italic">OC</tspan> mRNA (fold induction)</text>
<polyline points="418.7,779.0 497.8,780.8 576.9,752.1 656.0,670.9" fill="none" stroke="#555" stroke-width="1.2"/>
<polyline points="418.7,781.2 497.8,781.6 576.9,763.3 656.0,723.1" fill="none" stroke="#111" stroke-width="1.5"/>
<polyline points="418.7,779.0 497.8,780.5 576.9,688.0 656.0,636.2" fill="none" stroke="#111" stroke-width="1.5"/>
<polygon points="418.7,775.4733333333334 422.2,778.9733333333334 418.7,782.4733333333334 415.2,778.9733333333334" fill="#555"/>
<polygon points="497.8,777.3366666666667 501.3,780.8366666666667 497.8,784.3366666666667 494.3,780.8366666666667" fill="#555"/>
<line x1="576.9" y1="749.9053333333334" x2="576.9" y2="754.3773333333334" stroke="#333" stroke-width="1.2"/>
<line x1="571.9" y1="749.9053333333334" x2="581.9" y2="749.9053333333334" stroke="#333" stroke-width="1.2"/>
<line x1="571.9" y1="754.3773333333334" x2="581.9" y2="754.3773333333334" stroke="#333" stroke-width="1.2"/>
<polygon points="576.9,748.6413333333334 580.4,752.1413333333334 576.9,755.6413333333334 573.4,752.1413333333334" fill="#555"/>
<line x1="656.0" y1="660.838" x2="656.0" y2="680.962" stroke="#333" stroke-width="1.2"/>
<line x1="651.0" y1="660.838" x2="661.0" y2="660.838" stroke="#333" stroke-width="1.2"/>
<line x1="651.0" y1="680.962" x2="661.0" y2="680.962" stroke="#333" stroke-width="1.2"/>
<polygon points="656.0,667.4 659.5,670.9 656.0,674.4 652.5,670.9" fill="#555"/>
<rect x="414.45" y="776.9593333333333" width="8.5" height="8.5" fill="#111"/>
<rect x="493.55" y="777.332" width="8.5" height="8.5" fill="#111"/>
<rect x="572.9" y="759.3213333333333" width="8" height="8" fill="#111"/>
<line x1="656.0" y1="717.856" x2="656.0" y2="728.2906666666667" stroke="#333" stroke-width="1.2"/>
<line x1="651.0" y1="717.856" x2="661.0" y2="717.856" stroke="#333" stroke-width="1.2"/>
<line x1="651.0" y1="728.2906666666667" x2="661.0" y2="728.2906666666667" stroke="#333" stroke-width="1.2"/>
<rect x="651.75" y="718.8233333333334" width="8.5" height="8.5" fill="#111"/>
<polygon points="418.7,773.7483333333333 413.95,782.9633333333334 423.45,782.9633333333334" fill="#111"/>
<polygon points="497.8,775.239 493.05,784.4540000000001 502.55,784.4540000000001" fill="#111"/>
<line x1="576.9" y1="684.316" x2="576.9" y2="691.7693333333334" stroke="#333" stroke-width="1.2"/>
<line x1="571.9" y1="684.316" x2="581.9" y2="684.316" stroke="#333" stroke-width="1.2"/>
<line x1="571.9" y1="691.7693333333334" x2="581.9" y2="691.7693333333334" stroke="#333" stroke-width="1.2"/>
<polygon points="576.9,682.8176666666667 572.15,692.0326666666667 581.65,692.0326666666667" fill="#111"/>
<line x1="656.0" y1="631.77" x2="656.0" y2="640.714" stroke="#333" stroke-width="1.2"/>
<line x1="651.0" y1="631.77" x2="661.0" y2="631.77" stroke="#333" stroke-width="1.2"/>
<line x1="651.0" y1="640.714" x2="661.0" y2="640.714" stroke="#333" stroke-width="1.2"/>
<polygon points="656.0,631.0169999999999 651.25,640.232 660.75,640.232" fill="#111"/>
<rect x="427.3" y="622.9" width="103.19999999999999" height="52.200000000000045" fill="#fff" stroke="#333" stroke-width="1.2"/>
<line x1="430.8" y1="631.1" x2="452.8" y2="631.1" stroke="#444" stroke-width="1.3"/>
<polygon points="442.3,626.85 446.55,631.1 442.3,635.35 438.05,631.1" fill="#444"/>
<text x="459.5" y="636.7" font-size="14.3" text-anchor="start" >Mock</text>
<line x1="430.8" y1="649.2" x2="452.8" y2="649.2" stroke="#111" stroke-width="1.3"/>
<rect x="438.55" y="645.45" width="7.5" height="7.5" fill="#111"/>
<text x="459.5" y="654.8000000000001" font-size="14.3" text-anchor="start" >FBL12 WT</text>
<line x1="430.8" y1="665.9" x2="452.8" y2="665.9" stroke="#111" stroke-width="1.3"/>
<polygon points="442.3,661.225 438.05,669.47 446.55,669.47" fill="#111"/>
<text x="459.5" y="671.5" font-size="14.3" text-anchor="start" >FBL12 &#916;F</text>
</svg>
</body></html>
